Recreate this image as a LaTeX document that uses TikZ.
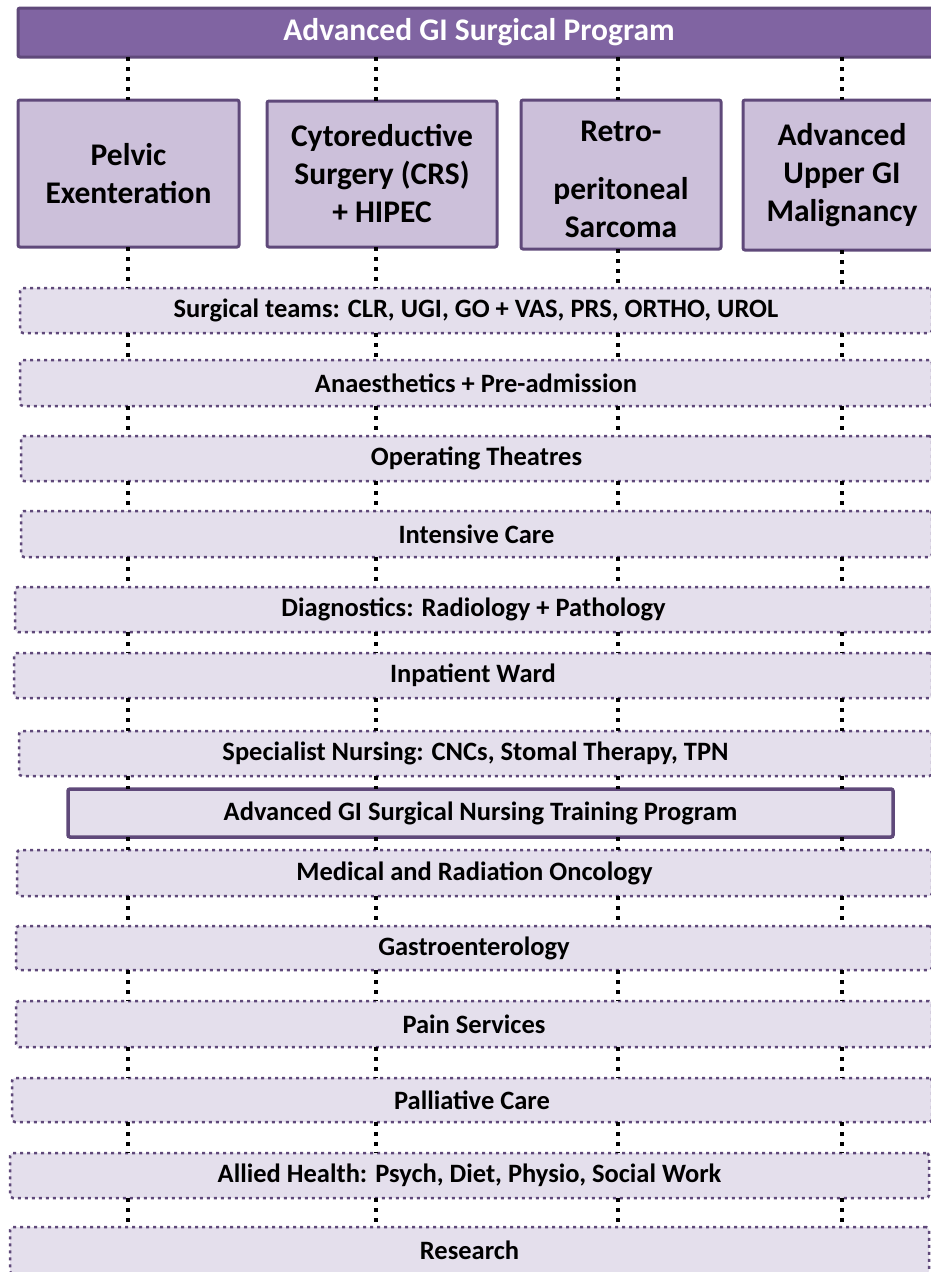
\documentclass[tikz,border=0pt]{standalone}
\usepackage{fontspec}
\setmainfont{Carlito}
\usepackage{xcolor}
\usepackage{tikz}
\usetikzlibrary{calc}

\definecolor{progpurple}{HTML}{8064A2}
\definecolor{edgepurple}{HTML}{5F497A}
\definecolor{streamfill}{HTML}{CCC0DA}
\definecolor{servicefill}{HTML}{E4DFEC}

\begin{document}
\begin{tikzpicture}[x=1pt, y=-1pt, inner sep=0pt, outer sep=0pt,
    every node/.style={anchor=north west, align=center, text=black},
    progbar/.style={draw=edgepurple, fill=progpurple, line width=3pt, rounded corners=2pt,
      text=white, font=\fontsize{31.5}{36}\selectfont\bfseries},
    stream/.style={draw=edgepurple, fill=streamfill, line width=3pt, rounded corners=2pt,
      font=\fontsize{31.5}{38}\selectfont\bfseries},
    service/.style={draw=edgepurple, fill=servicefill, line width=2.5pt, rounded corners=3pt,
      dash pattern=on 3pt off 4pt, font=\fontsize{26.5}{30}\selectfont\bfseries},
    training/.style={draw=edgepurple, fill=servicefill, line width=3.5pt, rounded corners=2pt,
      font=\fontsize{26.5}{30}\selectfont\bfseries},
    link/.style={draw=black, line width=4pt, dash pattern=on 4pt off 6pt}]

  \useasboundingbox (0,0) rectangle (930,1272);

  % programme and the four streams
  \node[progbar, minimum width=922pt, minimum height=49pt] (prog) at (18,8) {Advanced GI Surgical Program};
  \node[stream, minimum width=221pt, minimum height=147pt] (pelvic) at (18,100) {Pelvic\\Exenteration};
  \node[stream, minimum width=230pt, minimum height=146pt] (crs) at (267,101) {Cytoreductive\\Surgery (CRS)\\+ HIPEC};
  \node[stream, minimum width=200pt, minimum height=149pt] (retro) at (521,100)
    {\raisebox{-7pt}[\height][\depth]{\begin{tabular}{@{}c@{}}Retro-\\[20pt]peritoneal\\Sarcoma\end{tabular}}};
  \node[stream, minimum width=198pt, minimum height=150pt] (upper) at (743,100) {Advanced\\Upper GI\\Malignancy};

  % shared services
  \node[service, minimum width=912pt, minimum height=45pt] (surg) at (20,288) {Surgical teams: CLR, UGI, GO + VAS, PRS, ORTHO, UROL};
  \node[service, minimum width=912pt, minimum height=46pt] (anaes) at (20,360) {Anaesthetics + Pre-admission};
  \node[service, minimum width=911pt, minimum height=45pt] (theat) at (21,436) {Operating Theatres};
  \node[service, minimum width=911pt, minimum height=46pt] (icu) at (21,511) {Intensive Care};
  \node[service, minimum width=917pt, minimum height=45pt] (diag) at (15,587) {Diagnostics: Radiology + Pathology};
  \node[service, minimum width=918pt, minimum height=45pt] (ward) at (14,653) {Inpatient Ward};
  \node[service, minimum width=913pt, minimum height=45pt] (nurs) at (19,731) {Specialist Nursing: CNCs, Stomal Therapy, TPN};
  \node[training, minimum width=825pt, minimum height=48pt] (train) at (68,789) {Advanced GI Surgical Nursing Training Program};
  \node[service, minimum width=915pt, minimum height=46pt] (onc) at (17,850) {Medical and Radiation Oncology};
  \node[service, minimum width=916pt, minimum height=44pt] (gastro) at (16,926) {Gastroenterology};
  \node[service, minimum width=916pt, minimum height=46pt] (pain) at (16,1001) {Pain Services};
  \node[service, minimum width=920pt, minimum height=44pt] (pall) at (12,1078) {Palliative Care};
  \node[service, minimum width=919pt, minimum height=45pt] (allied) at (10,1153) {Allied Health: Psych, Diet, Physio, Social Work};
  \node[service, minimum width=919pt, minimum height=47pt] (research) at (10,1227) {Research};

  % where the dotted lines run
  \coordinate (k1) at (128,0);
  \coordinate (k2) at (376,0);
  \coordinate (k3) at (618,0);
  \coordinate (k4) at (842,0);

  \foreach \s/\k in {pelvic/k1, crs/k2, retro/k3, upper/k4} {
    \draw[link] (prog.south -| \k) -- (\s.north -| \k);
    \draw[link] (\s.south -| \k) -- (surg.north -| \k);
  }
  \foreach \a/\b in {surg/anaes, anaes/theat, theat/icu, icu/diag, diag/ward, ward/nurs,
      nurs/train, train/onc, onc/gastro, gastro/pain, pain/pall, pall/allied, allied/research}
    \foreach \k in {k1, k2, k3, k4}
      \draw[link] (\a.south -| \k) -- (\b.north -| \k);

\end{tikzpicture}
\end{document}
